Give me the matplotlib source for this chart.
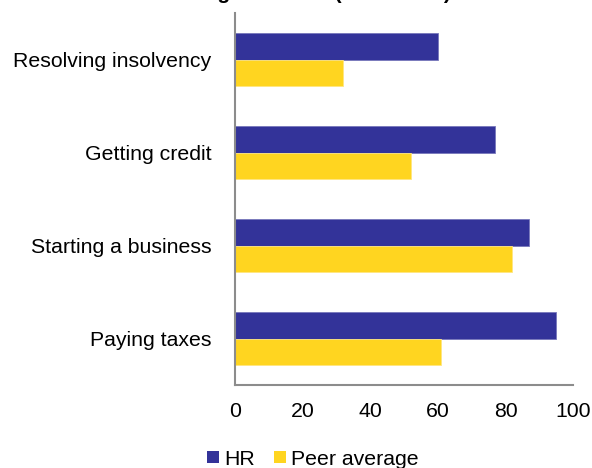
import matplotlib.pyplot as plt
from matplotlib.patches import Patch
import numpy as np

plt.rcParams['font.family'] = ['Liberation Sans', 'DejaVu Sans']

# data, bottom to top
categories = ['Paying taxes', 'Starting a business', 'Getting credit', 'Resolving insolvency']
hr = [95, 87, 77, 60]
peer = [61, 82, 52, 32]
series_names = ['HR', 'Peer average']

hr_color = '#333399'
peer_color = '#FFD520'

fig = plt.figure(figsize=(5.92, 4.68), dpi=100)
ax = fig.add_axes([0.397, 0.177, 0.571, 0.795])

y = np.arange(len(categories))
h = 0.287
ax.barh(y + h / 2, hr, height=h, color=hr_color, edgecolor='#7777bb', linewidth=0.6)
ax.barh(y - h / 2, peer, height=h, color=peer_color, edgecolor='#ffe680', linewidth=0.6)

ax.set_ylim(-0.5, 3.5)
ax.set_xlim(0, 100)
ax.set_xticks([0, 20, 40, 60, 80, 100])
ax.set_yticks(y)
ax.set_yticklabels(categories)
ax.tick_params(axis='both', length=0, labelsize=15.3)
ax.tick_params(axis='x', pad=12)
ax.tick_params(axis='y', pad=17)

for s in ['top', 'right']:
    ax.spines[s].set_visible(False)
for s in ['left', 'bottom']:
    ax.spines[s].set_color('#8c8c8c')
    ax.spines[s].set_linewidth(1.5)

# title sits mostly above the visible area, as in the source image
fig.text(0.526, 1.002, 'Doing Business (DTF score)', ha='center', va='baseline',
         fontsize=15, fontweight='bold')

handles = [Patch(facecolor=hr_color), Patch(facecolor=peer_color)]
fig.legend(handles, series_names, loc='center', bbox_to_anchor=(0.5286, 0.019),
           ncol=2, frameon=False, fontsize=15.3, handlelength=0.55, handleheight=0.55,
           handletextpad=0.25, columnspacing=0.92, borderpad=0)

fig.savefig('out.png', dpi=100)
